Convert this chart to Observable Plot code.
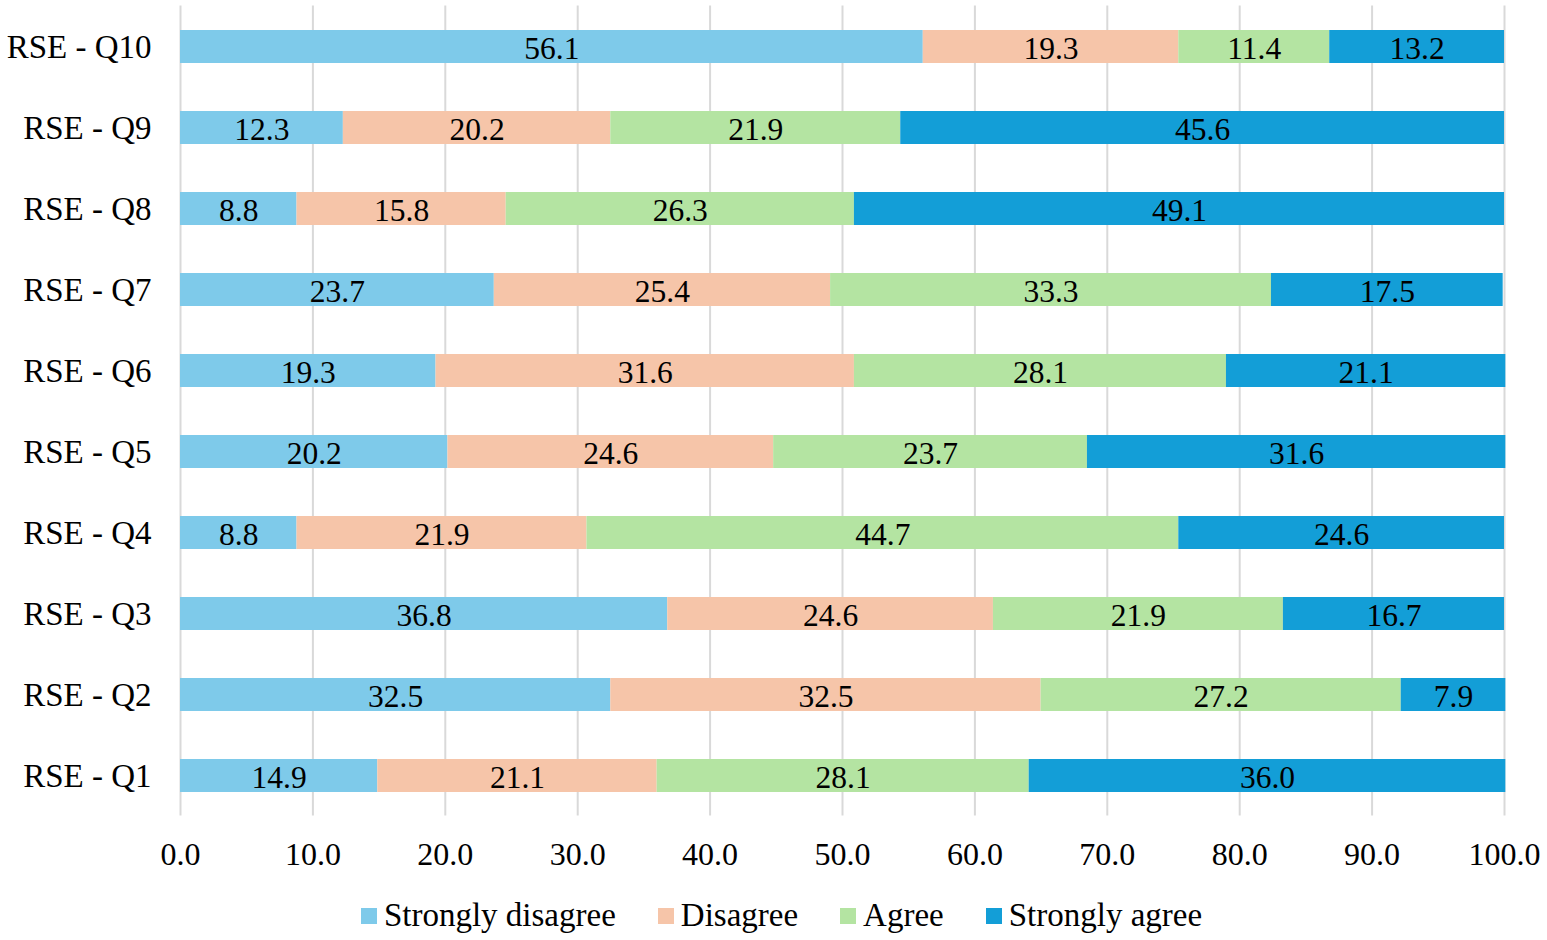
<!DOCTYPE html>
<html>
<head>
<meta charset="utf-8">
<script src="https://cdn.jsdelivr.net/npm/d3@7"></script>
<script src="https://cdn.jsdelivr.net/npm/@observablehq/plot@0.6"></script>
<style>
  html, body { margin: 0; padding: 0; background: #fff; }
  #chart svg { display: block; }
  #legend > div { justify-content: center !important; font-family: "Liberation Serif", "Times New Roman", serif !important; font-size: 33px !important; color: #000 !important; margin-top: 7px !important; padding-left: 16px; min-height: 36px !important; }
  #legend span { margin-right: 42px !important; }
  #legend span:last-child { margin-right: 0 !important; }
  #legend span > svg { margin-right: 7px !important; }
</style>
</head>
<body>
<div id="chart"></div>
<div id="legend"></div>
<script>
const questions = ["RSE - Q10", "RSE - Q9", "RSE - Q8", "RSE - Q7", "RSE - Q6", "RSE - Q5", "RSE - Q4", "RSE - Q3", "RSE - Q2", "RSE - Q1"];
const categories = ["Strongly disagree", "Disagree", "Agree", "Strongly agree"];
const colors = ["#7ECAEA", "#F6C5A9", "#B4E4A2", "#139ED7"];
const stronglyDisagree = [56.1, 12.3, 8.8, 23.7, 19.3, 20.2, 8.8, 36.8, 32.5, 14.9];
const disagree         = [19.3, 20.2, 15.8, 25.4, 31.6, 24.6, 21.9, 24.6, 32.5, 21.1];
const agree            = [11.4, 21.9, 26.3, 33.3, 28.1, 23.7, 44.7, 21.9, 27.2, 28.1];
const stronglyAgree    = [13.2, 45.6, 49.1, 17.5, 21.1, 31.6, 24.6, 16.7, 7.9, 36.0];
const xTicks = [0, 10, 20, 30, 40, 50, 60, 70, 80, 90, 100];

const seriesValues = [stronglyDisagree, disagree, agree, stronglyAgree];
const data = [];
questions.forEach((q, i) => {
  categories.forEach((c, j) => {
    data.push({q, cat: c, value: seriesValues[j][i]});
  });
});

const font = `"Liberation Serif", "Times New Roman", serif`;

const plot = Plot.plot({
  width: 1547,
  height: 890,
  marginTop: 5.5,
  marginBottom: 74.5,
  marginLeft: 180,
  marginRight: 43,
  style: {fontFamily: font, fontSize: "32px", color: "#000", background: "#fff"},
  x: {domain: [0, 100], ticks: xTicks, tickFormat: d => d.toFixed(1)},
  y: {domain: questions, paddingInner: 0.595, paddingOuter: 0.2975},
  color: {domain: categories, range: colors},
  marks: [
    Plot.gridX(xTicks, {stroke: "#d9d9d9", strokeOpacity: 1, strokeWidth: 2}),
    Plot.barX(data, Plot.stackX({x: "value", y: "q", fill: "cat", order: categories})),
    Plot.text(data, Plot.stackX({x: "value", y: "q", z: "cat", order: categories, text: d => d.value.toFixed(1), fill: "#000", fontSize: 31.5, dy: 2})),
    Plot.axisX({ticks: xTicks, tickFormat: d => d.toFixed(1), tickSize: 0, tickPadding: 26, fontSize: 32, label: null}),
    Plot.axisY({tickSize: 0, tickPadding: 29, fontSize: 33, label: null})
  ]
});
document.getElementById("chart").appendChild(plot);

const legend = Plot.legend({
  color: {domain: categories, range: colors},
  legend: "swatches",
  swatchSize: 16
});
document.getElementById("legend").appendChild(legend);
</script>
</body>
</html>
